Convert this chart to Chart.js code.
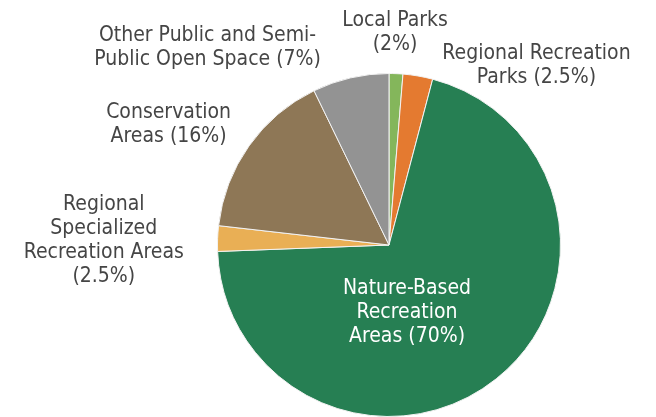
<!DOCTYPE html>
<html>
<head>
<meta charset="utf-8">
<script src="https://cdn.jsdelivr.net/npm/chart.js@4"></script>
<style>
  html, body { margin: 0; padding: 0; background: #fff; }
  #wrap { width: 656px; height: 417px; }
</style>
</head>
<body>
<div id="wrap"><canvas id="canvasGrafico" width="656" height="417"></canvas></div>
<script>
// categories (label lines as printed) and values
const categorias = [
  ['Local Parks', '(2%)'],
  ['Regional Recreation', 'Parks (2.5%)'],
  ['Nature-Based', 'Recreation', 'Areas (70%)'],
  ['Regional', 'Specialized', 'Recreation Areas', '(2.5%)'],
  ['Conservation', 'Areas (16%)'],
  ['Other Public and Semi-', 'Public Open Space (7%)']
];
const valores = [1.3, 2.8, 70.3, 2.4, 16, 7.2];

const cores = ['#84B65B', '#E47A30', '#267F53', '#E9AF55', '#8E7756', '#939393'];

// label centre relative to pie centre, in radius units
const posLabel = [
  [0.035, -1.241],
  [0.860, -1.047],
  [0.105, 0.395],
  [-1.663, -0.026],
  [-1.285, -0.701],
  [-1.058, -1.151]
];
const corLabel = ['#454545', '#454545', '#fff', '#454545', '#454545', '#454545'];

const fonte = '"Liberation Sans Narrow", "DejaVu Sans Condensed", "Roboto", sans-serif';

const labelsPlugin = {
  id: 'labelsPlugin',
  afterDraw(chart) {
    const ctx = chart.ctx;
    const arcs = chart.getDatasetMeta(0).data;
    ctx.save();
    ctx.font = '21px ' + fonte;
    ctx.textAlign = 'center';
    ctx.textBaseline = 'middle';
    arcs.forEach(function (arc, i) {
      const r = arc.outerRadius;
      const cx = arc.x + posLabel[i][0] * r;
      const cy = arc.y + posLabel[i][1] * r;
      const linhas = categorias[i];
      const lh = 24;
      ctx.fillStyle = corLabel[i];
      for (var k = 0; k < linhas.length; k++) {
        ctx.fillText(linhas[k], cx, cy + (k - (linhas.length - 1) / 2) * lh);
      }
    });
    ctx.restore();
  }
};

const data = {
  labels: categorias.map(function (c) { return c.join(' '); }),
  datasets: [{
    data: valores,
    backgroundColor: cores,
    borderColor: '#f2f2f2',
    borderWidth: 1
  }]
};

const config = {
  type: 'pie',
  data: data,
  options: {
    responsive: false,
    animation: false,
    layout: {
      padding: { left: 217, right: 95, top: 73, bottom: 0 }
    },
    plugins: {
      legend: { display: false },
      tooltip: { enabled: false }
    }
  },
  plugins: [labelsPlugin]
};

const graficoPizza = new Chart(
  document.getElementById('canvasGrafico'),
  config
);
</script>
</body>
</html>
